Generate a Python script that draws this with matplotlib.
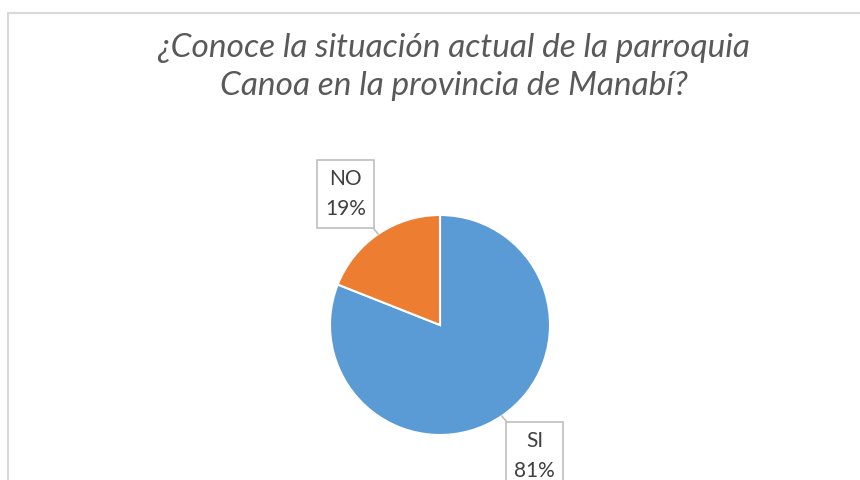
import numpy as np
import matplotlib
matplotlib.use('Agg')
from matplotlib import pyplot as plt
from matplotlib.patches import Rectangle

labels = ['SI', 'NO']
values = [81, 19]
colors = ['#5B9BD5', '#ED7D31']
title = '¿Conoce la situación actual de la parroquia\nCanoa en la provincia de Manabí?'

plt.rcParams['font.family'] = ['Lato', 'DejaVu Sans']

fig = plt.figure(figsize=(8.6, 4.8), dpi=100)

# chart frame (cropped at right and bottom like the screenshot)
fig.patches.append(Rectangle((8 / 860, -0.1), 1.0, (480 - 13) / 480 + 0.1,
                             transform=fig.transFigure, fill=False,
                             edgecolor='#D9D9D9', linewidth=1.5))

fig.text(454 / 860, 1 - 67 / 480, title, ha='center', va='center',
         fontsize=24, style='italic', color='#595959', linespacing=1.3)

ax = fig.add_axes([330 / 860, 45 / 480, 220 / 860, 220 / 480])
wedges, _ = ax.pie(values, colors=colors, startangle=90, counterclock=False,
                   wedgeprops=dict(edgecolor='white', linewidth=1.5))
ax.set_xlim(-1, 1)
ax.set_ylim(-1, 1)
ax.set_aspect('equal')
ax.axis('off')

for w, lab, v in zip(wedges, labels, values):
    ang = np.deg2rad((w.theta1 + w.theta2) / 2)
    x, y = np.cos(ang), np.sin(ang)
    ax.annotate('%s\n%d%%' % (lab, v), xy=(x, y), xytext=(1.53 * x, 1.44 * y),
                ha='center', va='center', fontsize=15, color='#404040',
                linespacing=1.65, annotation_clip=False,
                bbox=dict(boxstyle='square,pad=0.4', fc='white',
                          ec='#BFBFBF', lw=1.2),
                arrowprops=dict(arrowstyle='-', color='#BFBFBF', lw=1.2,
                                shrinkA=0, shrinkB=0))

fig.savefig('out.png', dpi=100)
